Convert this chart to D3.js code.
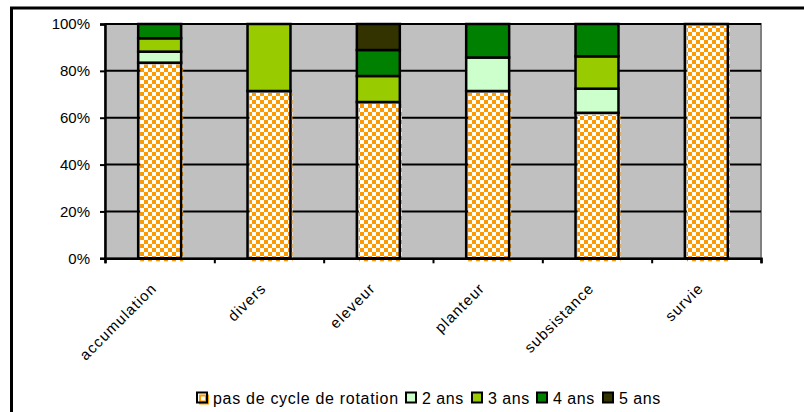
<!DOCTYPE html>
<html><head><meta charset="utf-8">
<script src="https://cdn.jsdelivr.net/npm/d3@7"></script>
<style>body{margin:0;background:#fff}svg{display:block}text{font-family:Arial,"Liberation Sans",sans-serif;fill:#000}</style>
</head><body>
<svg id="c" width="804" height="412"></svg>
<script>
const categories = ["accumulation","divers","eleveur","planteur","subsistance","survie"];
const seriesNames = ["pas de cycle de rotation","2 ans","3 ans","4 ans","5 ans"];
const pasDeCycle = [83.5, 71.4, 66.7, 71.4, 62.1, 100];
const ans2 =       [4.7,  0,    0,    14.3, 10.3, 0];
const ans3 =       [5.7,  28.6, 11.1, 0,    13.8, 0];
const ans4 =       [6.1,  0,    11.1, 14.3, 13.8, 0];
const ans5 =       [0,    0,    11.1, 0,    0,    0];
const yTicks = [0, 20, 40, 60, 80, 100];
const colors = ["url(#checker)", "#CCFFCC", "#99CC00", "#008000", "#333300"];

const svg = d3.select("#c");
const defs = svg.append("defs");
const pat = defs.append("pattern").attr("id","checker").attr("patternUnits","userSpaceOnUse")
  .attr("width",8).attr("height",8);
pat.append("rect").attr("width",8).attr("height",8).attr("fill","#fff");
pat.append("rect").attr("width",4).attr("height",4).attr("fill","#FF9900");
pat.append("rect").attr("x",4).attr("y",4).attr("width",4).attr("height",4).attr("fill","#FF9900");

// outer frame
svg.append("line").attr("x1",10).attr("x2",804).attr("y1",8).attr("y2",8).attr("stroke","#000").attr("stroke-width",3);
svg.append("line").attr("x1",11.5).attr("x2",11.5).attr("y1",8).attr("y2",412).attr("stroke","#000").attr("stroke-width",3);

const L=105, R=761, T=24, B=258.3;
const x = d3.scaleBand().domain(categories).range([L,R]).paddingInner(0.607).paddingOuter(0.3035);
const y = d3.scaleLinear().domain([0,100]).range([B,T]);

svg.append("rect").attr("x",L).attr("y",T).attr("width",R-L).attr("height",B-T)
  .attr("fill","#C0C0C0").attr("stroke","#808080").attr("stroke-width",2);

// gridlines
svg.append("g").selectAll("line").data(yTicks.filter(d=>d>0)).join("line")
  .attr("x1",L).attr("x2",R).attr("y1",d=>y(d)).attr("y2",d=>y(d))
  .attr("stroke","#000").attr("stroke-width",2);

// stacked data
const table = categories.map((c,i)=>({cat:c, s0:pasDeCycle[i], s1:ans2[i], s2:ans3[i], s3:ans4[i], s4:ans5[i]}));
const stack = d3.stack().keys(["s0","s1","s2","s3","s4"]);
const layers = stack(table);

const gBars = svg.append("g");
layers.forEach((layer,li)=>{
  const segs = layer.filter(d=>d[1]-d[0]>0);
  if(li===0){
    gBars.append("g").selectAll("rect").data(segs).join("rect")
      .attr("x",d=>x(d.data.cat)+2).attr("y",d=>y(d[1])+2)
      .attr("width",x.bandwidth()).attr("height",d=>y(d[0])-y(d[1])+1)
      .attr("fill",colors[0]);
    gBars.append("g").selectAll("rect").data(segs).join("rect")
      .attr("x",d=>x(d.data.cat)).attr("y",d=>y(d[1]))
      .attr("width",x.bandwidth()).attr("height",d=>y(d[0])-y(d[1]))
      .attr("fill","none").attr("stroke","#000").attr("stroke-width",2.5);
  } else {
    gBars.append("g").selectAll("rect").data(segs).join("rect")
      .attr("x",d=>x(d.data.cat)).attr("y",d=>y(d[1]))
      .attr("width",x.bandwidth()).attr("height",d=>y(d[0])-y(d[1]))
      .attr("fill",colors[li]).attr("stroke","#000").attr("stroke-width",2.5);
  }
});

// axes
const yAxis = svg.append("g").attr("transform",`translate(${L},0)`)
  .call(d3.axisLeft(y).tickValues(yTicks).tickFormat(d=>d+"%").tickSize(5).tickPadding(10));
yAxis.select(".domain").attr("stroke","#000").attr("stroke-width",2.5);
yAxis.selectAll(".tick line").attr("stroke","#000").attr("stroke-width",2);
yAxis.selectAll("text").attr("font-size",15).attr("font-family","Arial, 'Liberation Sans', sans-serif");

const xb = d3.scaleLinear().domain([0,categories.length]).range([L,R]);
const xAxis = svg.append("g").attr("transform",`translate(0,${B})`)
  .call(d3.axisBottom(xb).tickValues(d3.range(categories.length+1)).tickFormat("").tickSize(5));
xAxis.select(".domain").attr("stroke","#000").attr("stroke-width",2.5);
xAxis.selectAll(".tick line").attr("stroke","#000").attr("stroke-width",2);

// category labels
svg.append("g").selectAll("text").data(categories).join("text")
  .attr("transform",d=>`translate(${x(d)+x.bandwidth()/2-2},${B+31}) rotate(-45)`)
  .attr("text-anchor","end").attr("font-size",15).attr("letter-spacing",1.1).text(d=>d);

// legend
const legendX = [197, 406, 472, 537, 603];
const lg = svg.append("g");
seriesNames.forEach((n,i)=>{
  const g = lg.append("g").attr("transform",`translate(${legendX[i]},392.5)`);
  if(i===0){
    g.append("rect").attr("x",2).attr("y",2).attr("width",10).attr("height",10).attr("fill","#FF9900");
    g.append("rect").attr("x",4).attr("y",4).attr("width",4).attr("height",4).attr("fill","#fff");
    g.append("rect").attr("width",10).attr("height",10).attr("fill","none").attr("stroke","#000").attr("stroke-width",2);
  } else {
    g.append("rect").attr("width",10).attr("height",10).attr("fill",colors[i]).attr("stroke","#000").attr("stroke-width",2);
  }
  g.append("text").attr("x",16).attr("y",11.5).attr("font-size",16).attr("letter-spacing",i===0?0.7:0.5).text(n);
});
</script>
</body></html>
